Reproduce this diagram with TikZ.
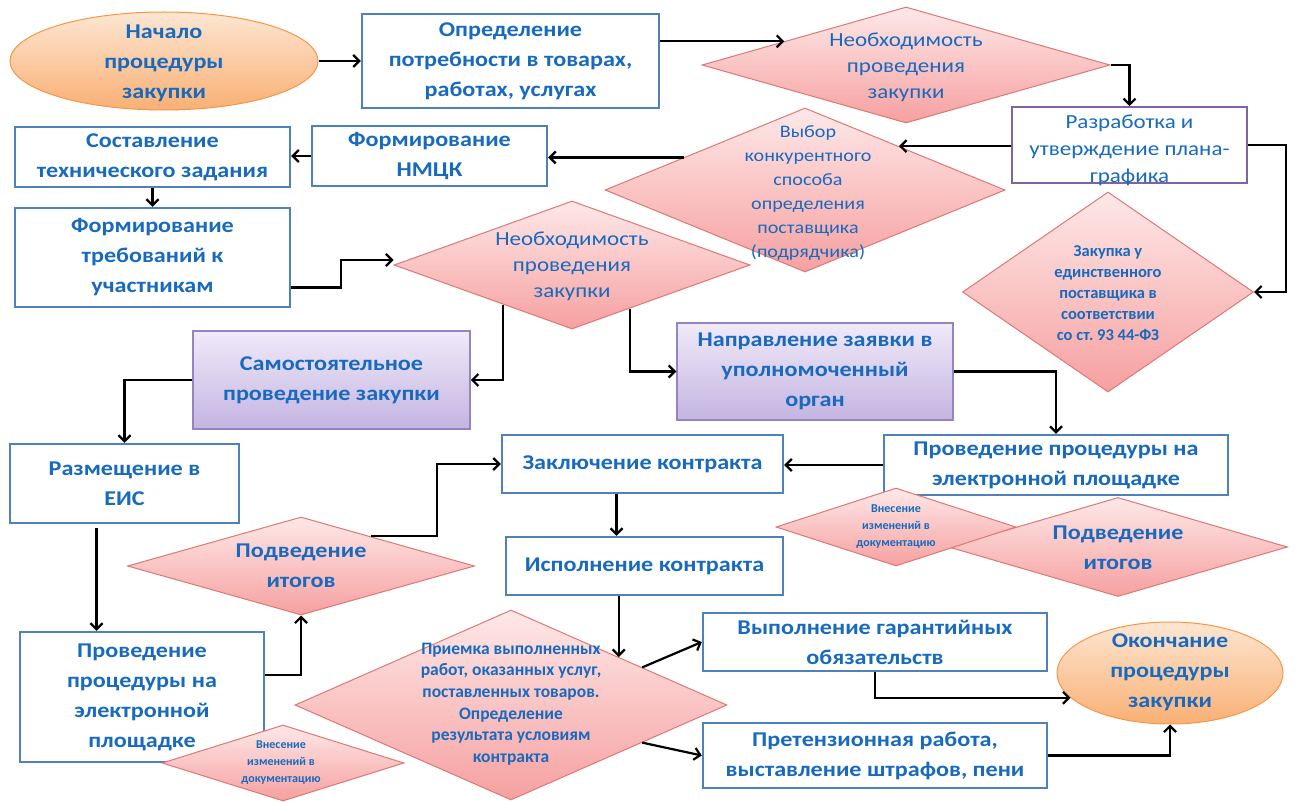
\documentclass[tikz,border=0pt]{standalone}
\usepackage{fontspec}
\setmainfont{Carlito}[FakeStretch=1.15]
\newfontfamily\condfont{Carlito}[FakeStretch=1.0]
\usetikzlibrary{shapes.geometric,arrows.meta,calc}
\frenchspacing
\definecolor{txtblue}{RGB}{23,106,190}
\definecolor{boxblue}{RGB}{79,129,189}
\definecolor{razrpurple}{RGB}{128,100,162}
\definecolor{purpB}{RGB}{150,132,192}
\definecolor{purpT}{RGB}{240,234,248}
\definecolor{purpBot}{RGB}{196,180,226}
\definecolor{diaB}{RGB}{220,120,118}
\definecolor{diaT}{RGB}{254,232,232}
\definecolor{diaBot}{RGB}{246,160,160}
\definecolor{oraB}{RGB}{247,150,70}
\definecolor{oraT}{RGB}{253,230,210}
\definecolor{oraBot}{RGB}{249,176,116}
\newcommand\mybigf{\fontsize{21}{30}\selectfont\bfseries}
\newcommand\mynecf{\fontsize{20}{26}\selectfont}
\newcommand\myvybf{\fontsize{17.5}{24}\selectfont}
\newcommand\myrazf{\fontsize{20}{27}\selectfont}
\newcommand\myzakf{\condfont\fontsize{16.5}{21}\selectfont\bfseries}
\newcommand\myprmf{\condfont\fontsize{17.5}{21.6}\selectfont\bfseries}
\newcommand\myvnf{\condfont\fontsize{12}{17}\selectfont\bfseries}
\begin{document}
\begin{tikzpicture}[x=1pt,y=-1pt,
  box/.style 2 args={draw=boxblue, line width=2.4pt, fill=white, minimum width=#1, minimum height=#2, inner sep=0pt, align=center, text=txtblue, font=\mybigf},
  pbox/.style 2 args={box={#1}{#2}, draw=purpB, line width=1.5pt, top color=purpT, bottom color=purpBot},
  dia/.style 2 args={diamond, draw=diaB, line width=1pt, top color=diaT, bottom color=diaBot, minimum width=#1, minimum height=#2, inner sep=0pt},
  ell/.style 2 args={ellipse, draw=oraB, line width=1pt, top color=oraT, bottom color=oraBot, minimum width=#1, minimum height=#2, inner sep=0pt},
  lab/.style={align=center, text=txtblue, inner sep=0pt},
  arr/.style={line width=2.2pt, -{Straight Barb[length=6pt,width=12pt]}}
]
\useasboundingbox (0,0) rectangle (1301,802);

% row 1
\node[ell={308}{98}] (n0) at (164,61) {};
\node[lab, font=\mybigf] (n0t) at (164,63) {Начало\\процедуры\\закупки};
\node[box={297}{94}] (opr) at (510.5,61) {Определение\\потребности в товарах,\\работах, услугах};
\node[dia={408}{116}] (d1) at (906,65) {};
\node[lab, font=\mynecf] (d1t) at (906,67) {Необходимость\\проведения\\закупки};
\node[box={235}{76}, draw=razrpurple, line width=1.8pt] (razr) at (1129.5,145) {};
\node[lab, font=\myrazf] (razrt) at (1129.5,150) {Разработка и\\утверждение плана-\\графика};

% row 2
\node[box={275}{60}] (sost) at (152.5,157) {Составление\\технического задания};
\node[box={235}{60}] (nmck) at (429.5,156) {Формирование\\НМЦК};
\node[dia={356}{128}] (n2) at (572,265) {};
\node[lab, font=\mynecf] (n2t) at (572,266) {Необходимость\\проведения\\закупки};
\node[dia={400}{164}] (vyb) at (805,190) {};
\node[lab, font=\myvybf] (vybt) at (808,193) {Выбор\\конкурентного\\способа\\определения\\поставщика\\(подрядчика)};
\node[dia={291}{200}] (zakU) at (1108,292) {};
\node[lab, font=\myzakf] (zakUt) at (1108,293) {Закупка у\\единственного\\поставщика в\\соответствии\\со ст. 93 44-ФЗ};
\node[box={275}{99}] (treb) at (152.5,257.5) {Формирование\\требований к\\участникам};

% row 3
\node[pbox={277}{98}] (sam) at (331.5,380) {Самостоятельное\\проведение закупки};
\node[pbox={276}{97}] (napr) at (815,371.5) {Направление заявки в\\уполномоченный\\орган};

% row 4
\node[box={229}{79}] (razm) at (124.5,483.5) {Размещение в\\ЕИС};
\node[box={281}{58}] (zakl) at (642.5,464) {Заключение контракта};
\node[box={277}{58}] (isp) at (644.5,566) {Исполнение контракта};
\node[box={344}{60}] (provR) at (1056,465) {Проведение процедуры на\\электронной площадке};
\node[dia={339}{99}] (podR) at (1118,547) {};
\node[lab, font=\mybigf] (podRt) at (1118,548) {Подведение\\итогов};
\node[dia={240}{78}] (vnR) at (896,527) {};
\node[lab, font=\myvnf] (vnRt) at (896,527) {Внесение\\изменений в\\документацию};

% bottom
\node[box={244}{130}] (provL) at (142,697) {Проведение\\процедуры на\\электронной\\площадке};
\node[dia={347}{98}] (podL) at (301,566) {};
\node[lab, font=\mybigf] (podLt) at (301,566) {Подведение\\итогов};
\node[dia={432}{190}] (prm) at (511,705) {};
\node[lab, font=\myprmf] (prmt) at (511,704) {Приемка выполненных\\работ, оказанных услуг,\\поставленных товаров.\\Определение\\результата условиям\\контракта};
\node[dia={242}{76}] (vnL) at (283,763) {};
\node[lab, font=\myvnf] (vnLt) at (281,763) {Внесение\\изменений в\\документацию};
\node[box={344}{58}] (vyp) at (875,642) {Выполнение гарантийных\\обязательств};
\node[box={344}{65}] (pret) at (875,755.5) {Претензионная работа,\\выставление штрафов, пени};
\node[ell={226}{102}] (okon) at (1170,673) {};
\node[lab, font=\mybigf] (okont) at (1170,672) {Окончание\\процедуры\\закупки};

% connectors
\draw[arr] (n0.east) -- (opr.west);
\draw[arr] (opr.east |- d1.169) -- (d1.169);
\draw[arr] (d1.east) -| (razr.north);
\draw[arr] (razr.west |- vyb.25) -- (vyb.25);
\draw[arr] (razr.east) -- ++(38,0) |- (zakU.east);
\draw[arr] (vyb.165) -- (vyb.165 -| nmck.east);
\draw[arr] (nmck.west) -- (nmck.west -| sost.east);
\draw[arr] (sost.south) -- (treb.north);
\draw[arr] ([yshift=-30pt]treb.east) -- ++(50,0) |- ([yshift=5pt]n2.west);
\draw[arr] (n2.210) |- (sam.east);
\draw[arr] (n2.-37) |- (napr.west);
\draw[arr] (sam.west) -| (razm.north);
\draw[arr] ([xshift=-28pt,yshift=-4pt]razm.south) -- ([xshift=-28pt]razm.south |- provL.north);
\draw[arr] ([yshift=22pt]provL.east) -| (podL.south);
\draw[arr] (podL.23) -- ++(66,0) |- (zakl.west);
\draw[arr] (provR.west) -- (provR.west -| zakl.east);
\draw[arr] (napr.east) -| (provR.north);
\draw[arr] ([xshift=-26pt]zakl.south) -- ([xshift=-26pt]zakl.south |- isp.north);
\draw[arr] (prm.24 |- isp.south) -- (prm.24);
\draw[arr] (prm.16) -- (vyp.west);
\draw[arr] (prm.-16) -- (pret.west);
\draw[arr] (vyp.south) |- (okon.194);
\draw[arr] (pret.east) -| (okon.south);
\end{tikzpicture}
\end{document}
